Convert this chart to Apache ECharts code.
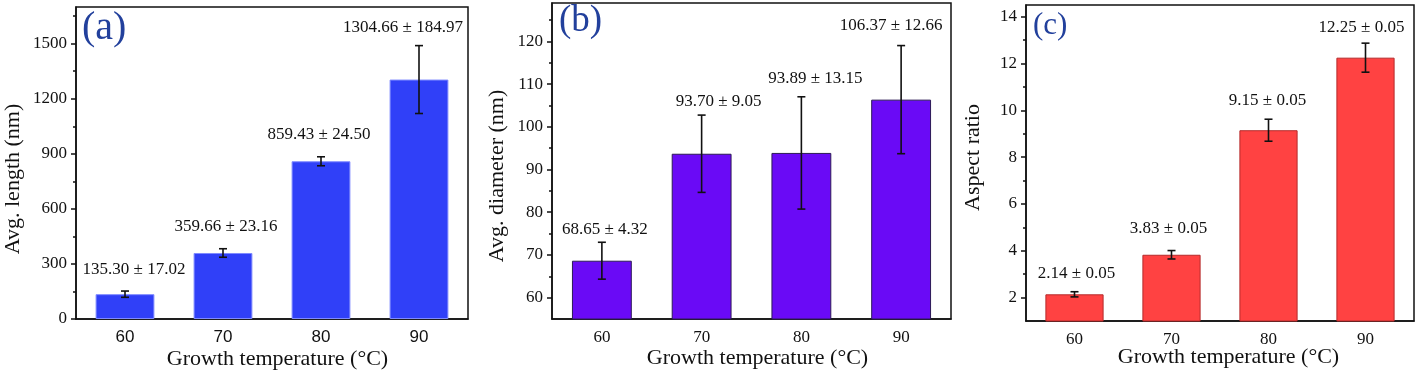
<!DOCTYPE html>
<html>
<head>
<meta charset="utf-8">
<script src="https://cdn.jsdelivr.net/npm/echarts@6/dist/echarts.min.js"></script>
<style>
html, body { margin: 0; padding: 0; background: #fff; }
#main { width: 1418px; height: 373px; }
</style>
</head>
<body>
<div id="main"></div>
<script>
var temps = ['60', '70', '80', '90'];

var lengthAvg = [135.30, 359.66, 859.43, 1304.66];
var lengthErr = [17.02, 23.16, 24.50, 184.97];

var diameterAvg = [68.65, 93.70, 93.89, 106.37];
var diameterErr = [4.32, 9.05, 13.15, 12.66];

var ratioAvg = [2.14, 3.83, 9.15, 12.25];
var ratioErr = [0.05, 0.05, 0.05, 0.05];      // what the labels say
var ratioErrBar = [0.11, 0.18, 0.47, 0.62];   // what the error bars show

var lengthTicks = [0, 300, 600, 900, 1200, 1500];
var lengthMinor = [150, 450, 750, 1050, 1350, 1650];
var diameterTicks = [60, 70, 80, 90, 100, 110, 120];
var diameterMinor = [65, 75, 85, 95, 105, 115, 125];
var ratioTicks = [2, 4, 6, 8, 10, 12, 14];
var ratioMinor = [3, 5, 7, 9, 11, 13];

var SERIF = '"Liberation Serif", "Times New Roman", serif';
var SANS = '"Liberation Sans", Arial, sans-serif';
var INK = '#111';

var panels = [
    {
        letter: '(a)', letterPos: [82, 28], letterSize: 40,
        grid: { left: 76, right: 950, top: 7, bottom: 54 },
        yMin: 0, yMax: 1700, ticks: lengthTicks, minor: lengthMinor,
        avg: lengthAvg, err: lengthErr, errBar: lengthErr,
        yName: 'Avg. length (nm)', yGap: 52, yPad: [0, 32, 0, 0],
        xGap: 29, xPad: [0, 0, 0, 11], xFont: SANS,
        color: '#3040f8', border: '#7f8aff',
        // label nudges [dx, dy above error cap]
        nudge: [[9, 22], [3, 22], [-2, 22], [-16, 18]]
    },
    {
        letter: '(b)', letterPos: [559, 21], letterSize: 37,
        grid: { left: 552, right: 467, top: 3, bottom: 54 },
        yMin: 55, yMax: 129, ticks: diameterTicks, minor: diameterMinor,
        avg: diameterAvg, err: diameterErr, errBar: diameterErr,
        yName: 'Avg. diameter (nm)', yGap: 44, yPad: [0, 30, 0, 0],
        xGap: 28, xPad: [0, 0, 0, 12], xFont: SERIF,
        color: '#6a0af6', border: '#2c1a55',
        nudge: [[3, 13], [17, 14], [14, 18], [-10, 20]]
    },
    {
        letter: '(c)', letterPos: [1033, 26], letterSize: 31,
        grid: { left: 1026, right: 4, top: 5, bottom: 52 },
        yMin: 1, yMax: 14.5, ticks: ratioTicks, minor: ratioMinor,
        avg: ratioAvg, err: ratioErr, errBar: ratioErrBar,
        yName: 'Aspect ratio', yGap: 42, yPad: [0, 0, 0, 11],
        xGap: 25, xPad: [0, 0, 0, 17], xFont: SERIF,
        color: '#ff4242', border: '#b52a2a',
        nudge: [[2, 18], [-3, 22], [-1, 19], [-4, 16]]
    }
];

function errorBars(p) {
    return function (params, api) {
        var k = params.dataIndex;
        var x = api.value(0), m = api.value(1), e = api.value(2);
        var top = api.coord([x, m + e]);
        var bot = api.coord([x, m - e]);
        var cap = 4;
        var ls = { stroke: INK, lineWidth: 1.6 };
        var n = p.nudge[k];
        return {
            type: 'group',
            children: [
                { type: 'line', shape: { x1: top[0], y1: top[1], x2: bot[0], y2: bot[1] }, style: ls },
                { type: 'line', shape: { x1: top[0] - cap, y1: top[1], x2: top[0] + cap, y2: top[1] }, style: ls },
                { type: 'line', shape: { x1: bot[0] - cap, y1: bot[1], x2: bot[0] + cap, y2: bot[1] }, style: ls },
                {
                    type: 'text',
                    x: top[0] + n[0],
                    y: top[1] - n[1],
                    style: {
                        text: p.avg[k].toFixed(2) + ' ± ' + p.err[k].toFixed(2),
                        font: '17px ' + SERIF,
                        fill: INK,
                        align: 'center',
                        verticalAlign: 'middle'
                    }
                }
            ]
        };
    };
}

var option = {
    animation: false,
    backgroundColor: '#fff',
    grid: [], xAxis: [], yAxis: [], series: [], graphic: []
};

panels.forEach(function (p, i) {
    var lineStyle = { color: INK, width: 1.5 };
    option.grid.push(Object.assign({
        show: true, borderColor: INK, borderWidth: 1.5, backgroundColor: 'transparent',
        containLabel: false, outerBoundsMode: 'none'
    }, p.grid));

    option.xAxis.push({
        type: 'category', gridIndex: i, data: temps, position: 'bottom',
        axisLine: { onZero: false, lineStyle: lineStyle },
        axisTick: { alignWithLabel: true, length: 5, lineStyle: lineStyle },
        axisLabel: { margin: 10, color: INK, fontFamily: p.xFont, fontSize: 17 },
        splitLine: { show: false },
        name: 'Growth temperature (°C)', nameLocation: 'middle', nameGap: p.xGap,
        nameMoveOverlap: false,
        nameTextStyle: { fontFamily: SERIF, fontSize: 22, color: INK, padding: p.xPad }
    });
    // ticks between the categories
    option.xAxis.push({
        type: 'category', gridIndex: i, data: temps, position: 'bottom',
        axisLine: { show: false, onZero: false },
        axisTick: { interval: 0, length: 3, lineStyle: lineStyle },
        axisLabel: { show: false },
        splitLine: { show: false }
    });

    option.yAxis.push({
        type: 'value', gridIndex: i, min: p.yMin, max: p.yMax, position: 'left',
        axisLine: { show: true, onZero: false, lineStyle: lineStyle },
        axisTick: { show: true, customValues: p.ticks, length: 5, lineStyle: lineStyle },
        axisLabel: {
            customValues: p.ticks, margin: 9, color: INK, fontFamily: SERIF, fontSize: 17,
            formatter: function (v) { return String(v); }
        },
        splitLine: { show: false },
        name: p.yName, nameLocation: 'middle', nameGap: p.yGap, nameRotate: 90,
        nameMoveOverlap: false,
        nameTextStyle: { fontFamily: SERIF, fontSize: 22, color: INK, padding: p.yPad }
    });
    option.yAxis.push({
        type: 'value', gridIndex: i, min: p.yMin, max: p.yMax, position: 'left',
        axisLine: { show: false, onZero: false },
        axisTick: { show: true, customValues: p.minor, length: 3, lineStyle: lineStyle },
        axisLabel: { show: false },
        splitLine: { show: false }
    });

    option.series.push({
        type: 'bar', xAxisIndex: i * 2, yAxisIndex: i * 2,
        data: p.avg, barWidth: '60%', silent: true,
        itemStyle: { color: p.color, borderColor: p.border, borderWidth: 1 }
    });
    option.series.push({
        type: 'custom', xAxisIndex: i * 2, yAxisIndex: i * 2, z: 5, silent: true,
        data: p.avg.map(function (v, k) { return [k, v, p.errBar[k]]; }),
        renderItem: errorBars(p)
    });

    option.graphic.push({
        type: 'text', x: p.letterPos[0], y: p.letterPos[1], silent: true,
        style: {
            text: p.letter, font: p.letterSize + 'px ' + SERIF,
            fill: '#22409c', align: 'left', verticalAlign: 'middle'
        }
    });
});

var chart = echarts.init(document.getElementById('main'));
chart.setOption(option);
</script>
</body>
</html>
